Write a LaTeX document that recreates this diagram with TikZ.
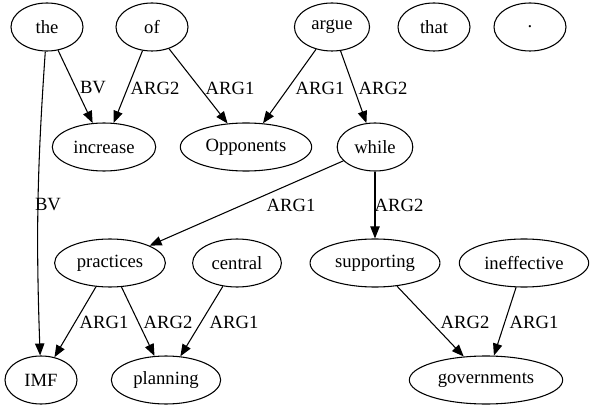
\documentclass[tikz,border=0pt]{standalone}
\usepackage{fontspec}
\setmainfont{Liberation Serif}
\usepackage{tikz}
\usetikzlibrary{arrows.meta,shapes.geometric}

\begin{document}
\begin{tikzpicture}[x=0.75pt,y=0.75pt,>={Triangle[length=9pt,width=7pt]},
    word/.style={ellipse,draw,line width=0.8pt,minimum width=54pt,minimum height=36pt,
      inner xsep=4.5pt,font=\fontsize{14}{17}\selectfont},
    rel/.style={font=\fontsize{14}{17}\selectfont,inner sep=1pt},
    edge/.style={->,line width=0.8pt}]
      \useasboundingbox (0,0) rectangle (596,411);

      % first row
      \node[word] (the)   at (47,384)  {the};
      \node[word] (of)    at (152,384) {of};
      \node[word] (argue) at (332,384) {argue};
      \node[word] (that)  at (434,384) {that};
      \node[word] (dot)   at (530,384) {.};

      % second row
      \node[word] (increase)  at (104,264) {increase};
      \node[word] (opponents) at (246,264) {Opponents};
      \node[word] (while)     at (375,264) {while};

      % third row
      \node[word] (practices)   at (110,148) {practices};
      \node[word] (central)     at (237,148) {central};
      \node[word] (supporting)  at (375,148) {supporting};
      \node[word] (ineffective) at (524,148) {ineffective};

      % last row
      \node[word] (imf)         at (41,31)  {IMF};
      \node[word] (planning)    at (166,31) {planning};
      \node[word] (governments) at (486,31) {governments};

      % relations
      \draw[edge] (the) -- (increase)       node[rel] (l1) at (93,323) {BV};
      \draw[edge] (of) -- (increase)        node[rel] (l2) at (155,323) {ARG2};
      \draw[edge] (of) -- (opponents)       node[rel] (l3) at (230,323) {ARG1};
      \draw[edge] (argue) -- (opponents)    node[rel] (l4) at (320,323) {ARG1};
      \draw[edge] (argue) -- (while)        node[rel] (l5) at (383,323) {ARG2};
      \draw[edge] (the) to[bend right=3] (imf) node[rel] (l6) at (48,206) {BV};
      \draw[edge] (while) -- (practices)    node[rel] (l7) at (291,206) {ARG1};
      \draw[edge] (while) -- (supporting)   node[rel] (l8) at (399,206) {ARG2};
      \draw[edge] (practices) -- (imf)      node[rel] (l9) at (104,89) {ARG1};
      \draw[edge] (practices) -- (planning) node[rel] (l10) at (168,89) {ARG2};
      \draw[edge] (central) -- (planning)   node[rel] (l11) at (234,89) {ARG1};
      \draw[edge] (supporting) -- (governments)  node[rel] (l12) at (465,89) {ARG2};
      \draw[edge] (ineffective) -- (governments) node[rel] (l13) at (534,89) {ARG1};
\end{tikzpicture}
\end{document}
